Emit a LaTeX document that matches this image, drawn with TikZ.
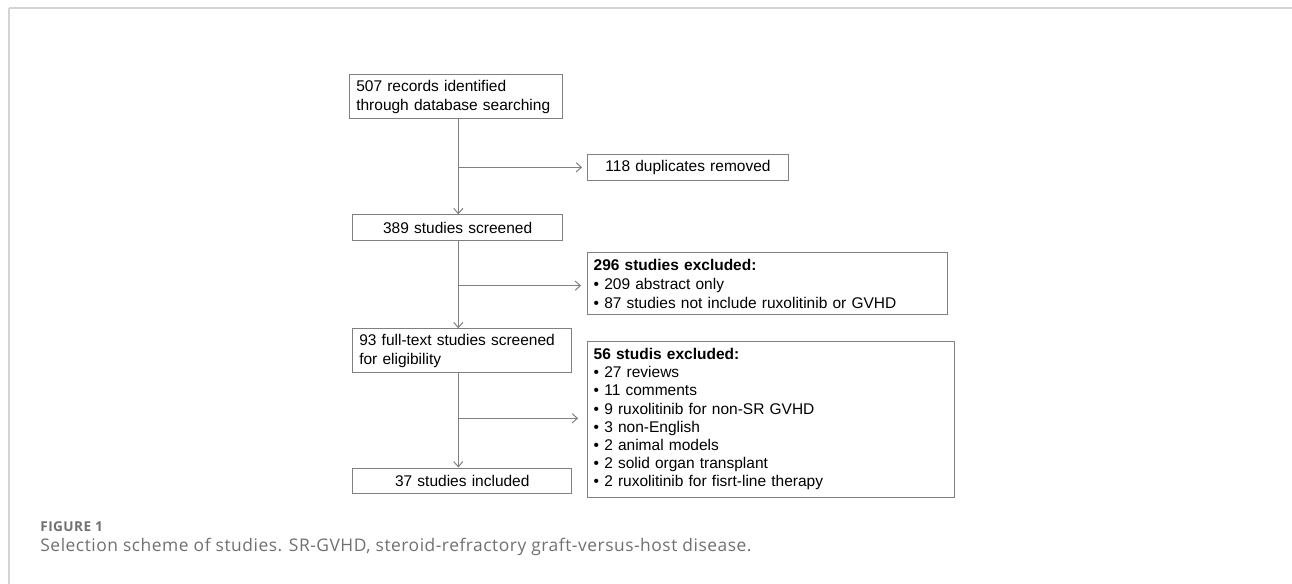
\documentclass[tikz,border=0pt]{standalone}
\usepackage{fontspec}
\usetikzlibrary{arrows.meta}
\setmainfont{Liberation Sans}
\newfontfamily\capfont[LetterSpace=3]{Open Sans}
\definecolor{linegray}{RGB}{128,128,128}
\definecolor{framegray}{RGB}{212,212,212}
\definecolor{capgray}{RGB}{112,112,112}
\newcommand\boxfont{\fontsize{7.75}{9.4}\selectfont}
\newcommand\listfont{\fontsize{7.75}{9.05}\selectfont}
\newcommand\bul{\textbullet\ }
\tikzset{
  >={Straight Barb[length=2.6pt,width=4.6pt]},
  flowbox/.style 2 args={draw=linegray, line width=0.5pt, anchor=north west,
    inner xsep=3.25pt, inner ysep=0pt, text width=#1, minimum height=#2, font=\boxfont},
  flow/.style={draw=linegray, line width=0.5pt, ->},
}

\begin{document}
\begin{tikzpicture}[x=0.5pt,y=-0.5pt]
        \useasboundingbox (0,0) rectangle (1292,584);
        % frame
        \draw[framegray,line width=1pt] (9,7.5) -- (1292,7.5);
        \draw[framegray,line width=0.6pt] (9,7.5) -- (9,584);
        % boxes
        \node[flowbox={99.7pt}{22pt},align=left] (rec) at (349.3,74.3) {507 records identified\\through database searching};
        \node[flowbox={94.3pt}{12.7pt},align=center] (dup) at (586.7,154.3) {118 duplicates removed};
        \node[flowbox={98.35pt}{12.85pt},align=center] (scr) at (352.3,214.3) {389 studies screened};
        \node[flowbox={173.5pt}{31pt},align=left] (exa) at (586.7,252.3) {\textbf{296 studies excluded:}\\\bul 209 abstract only\\\bul 87 studies not include ruxolitinib or GVHD};
        \node[flowbox={103pt}{21.85pt},align=left] (full) at (352.3,328.3) {93 full-text studies screened\\for eligibility};
        \node[flowbox={177.3pt}{78.1pt},align=left,font=\listfont] (exb) at (586.7,340.5) {\textbf{56 studis excluded:}\\\bul 27 reviews\\\bul 11 comments\\\bul 9 ruxolitinib for non-SR GVHD\\\bul 3 non-English\\\bul 2 animal models\\\bul 2 solid organ transplant\\\bul 2 ruxolitinib for fisrt-line therapy};
        \node[flowbox={103pt}{12.5pt},align=center] (inc) at (352.3,467.5) {37 studies included};
        % connectors
        \coordinate (sp1) at (458.3,167.3);
        \coordinate (sp2) at (458.3,285.7);
        \coordinate (sp3) at (458.3,418.3);
        \draw[flow] (rec.south -| sp1) -- (scr.north -| sp1);
        \draw[flow,shorten >=2.3pt] (sp1) -- (dup.west |- sp1);
        \draw[flow] (scr.south -| sp2) -- (full.north -| sp2);
        \draw[flow,shorten >=2.8pt] (sp2) -- (exa.west |- sp2);
        \draw[flow] (full.south -| sp3) -- (inc.north -| sp3);
        \draw[flow,shorten >=4.3pt] (sp3) -- (exb.west |- sp3);
        % caption
        \node[anchor=base west,inner sep=0pt,capgray,font=\capfont\bfseries\fontsize{6.8}{7}\selectfont] (fig) at (40,531.7) {FIGURE 1};
        \node[anchor=base west,inner sep=0pt,capgray,font=\capfont\fontsize{8.7}{9}\selectfont] (cap) at (40,551.7) {Selection scheme of studies. SR-GVHD, steroid-refractory graft-versus-host disease.};
\end{tikzpicture}
\end{document}
